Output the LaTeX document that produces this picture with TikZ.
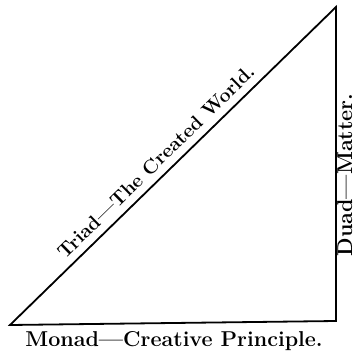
\documentclass[tikz,border=0pt]{standalone}
\usetikzlibrary{positioning}

\tikzset{
  caption/.style={inner sep=0pt, font=\fontsize{21.5}{25}\selectfont\bfseries},
  side/.style={line width=1.8pt, line join=miter}
}

\begin{document}
\begin{tikzpicture}[x=1pt,y=1pt,yscale=-1,xscale=1]
\useasboundingbox (0,0) rectangle (355,352);

% corners of the triangle
\coordinate (monad) at (10,325);
\coordinate (duad) at (336,321);
\coordinate (apex) at (336,7);

\draw [side] (monad) -- (apex) -- (duad) -- cycle;

% Text Node
\path (monad) -- (apex) node [caption, font=\fontsize{19.5}{24}\selectfont\bfseries, pos=0.48, anchor=south, inner sep=8pt, rotate=44.3] (triad) {Triad---The Created World.};
\draw (174,346) node [caption, anchor=base] (monadtext) {Monad---Creative Principle.};
\draw (352,175) node [caption, anchor=base, rotate=90] (duadtext) {Duad---Matter.};

\end{tikzpicture}
\end{document}
